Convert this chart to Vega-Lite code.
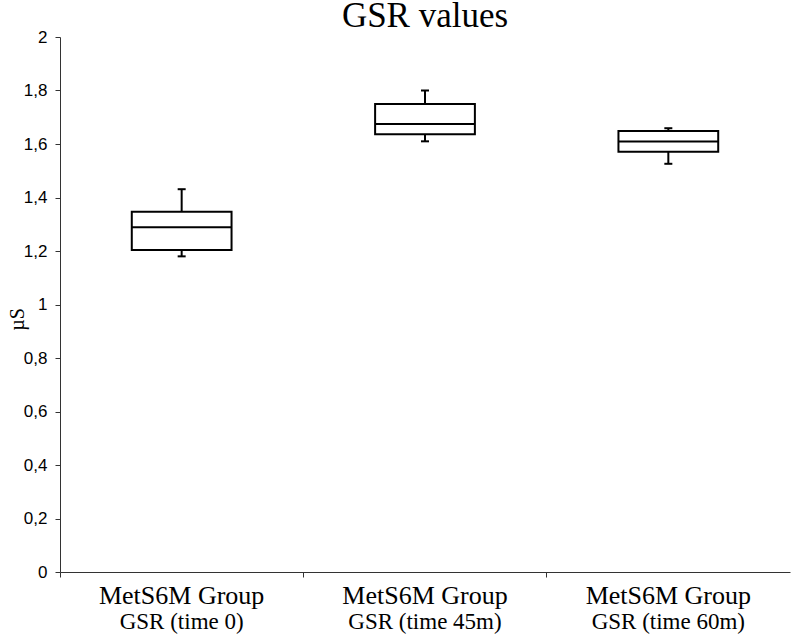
{
  "$schema": "https://vega.github.io/schema/vega-lite/v6.json",
  "width": 730,
  "height": 535,
  "autosize": {"type": "none"},
  "padding": {"left": 60, "top": 37, "right": 10, "bottom": 66},
  "background": "white",
  "title": {"text": "GSR values", "font": "Liberation Serif", "fontSize": 35, "fontWeight": "normal", "color": "black", "anchor": "middle", "offset": -6},
  "config": {
    "view": {"stroke": null},
    "axis": {"grid": false, "domainColor": "#333333", "tickColor": "#333333", "labelColor": "black", "titleColor": "black"},
    "axisY": {"tickCount": 10, "tickSize": 5, "labelPadding": 8, "labelFont": "Liberation Sans", "labelFontSize": 17, "labelExpr": "replace(format(datum.value, '~g'), '.', ',')", "titleFont": "Liberation Serif", "titleFontSize": 20, "titleFontWeight": "normal", "titleAngle": -90, "titleX": -43, "titleY": 282, "titleAlign": "center", "titleBaseline": "middle"}
  },
  "data": {"values": [
    {"label": "GSR (time 0)", "lower": 1.18, "q1": 1.204, "median": 1.289, "q3": 1.347, "upper": 1.431},
    {"label": "GSR (time 45m)", "lower": 1.61, "q1": 1.636, "median": 1.675, "q3": 1.75, "upper": 1.8},
    {"label": "GSR (time 60m)", "lower": 1.526, "q1": 1.571, "median": 1.609, "q3": 1.649, "upper": 1.659}
  ]},
  "resolve": {"axis": {"x": "independent"}},
  "layer": [
    {
      "mark": {"type": "rule", "color": "black", "strokeWidth": 2},
      "encoding": {
        "x": {"field": "label", "type": "nominal", "sort": null, "scale": {"paddingInner": 0, "paddingOuter": 0},
              "axis": {"orient": "bottom", "title": null, "labelAngle": 0, "bandPosition": 0, "tickSize": 5, "labelPadding": 26, "labelFont": "Liberation Serif", "labelFontSize": 26, "labelBaseline": "alphabetic", "labelExpr": "'MetS6M Group'"}},
        "y": {"field": "lower", "type": "quantitative", "scale": {"domain": [0, 2]}, "axis": {"title": "µS"}},
        "y2": {"field": "upper"}
      }
    },
    {
      "mark": {"type": "bar", "fill": "white", "stroke": "black", "strokeWidth": 2, "width": {"band": 0.41}},
      "encoding": {
        "x": {"field": "label", "type": "nominal", "sort": null, "axis": null},
        "y": {"field": "q1", "type": "quantitative", "axis": {"title": "µS"}},
        "y2": {"field": "q3"}
      }
    },
    {
      "mark": {"type": "tick", "color": "black", "opacity": 1, "size": 100, "thickness": 2},
      "encoding": {
        "x": {"field": "label", "type": "nominal", "sort": null,
              "axis": {"orient": "bottom", "title": null, "labelAngle": 0, "domain": false, "ticks": false, "labelPadding": 56, "labelFont": "Liberation Serif", "labelFontSize": 23, "labelBaseline": "alphabetic"}},
        "y": {"field": "median", "type": "quantitative", "axis": {"title": "µS"}}
      }
    },
    {
      "mark": {"type": "tick", "color": "black", "opacity": 1, "size": 8, "thickness": 2},
      "encoding": {
        "x": {"field": "label", "type": "nominal", "sort": null, "axis": null},
        "y": {"field": "lower", "type": "quantitative", "axis": {"title": "µS"}}
      }
    },
    {
      "mark": {"type": "tick", "color": "black", "opacity": 1, "size": 8, "thickness": 2},
      "encoding": {
        "x": {"field": "label", "type": "nominal", "sort": null, "axis": null},
        "y": {"field": "upper", "type": "quantitative", "axis": {"title": "µS"}}
      }
    }
  ]
}
